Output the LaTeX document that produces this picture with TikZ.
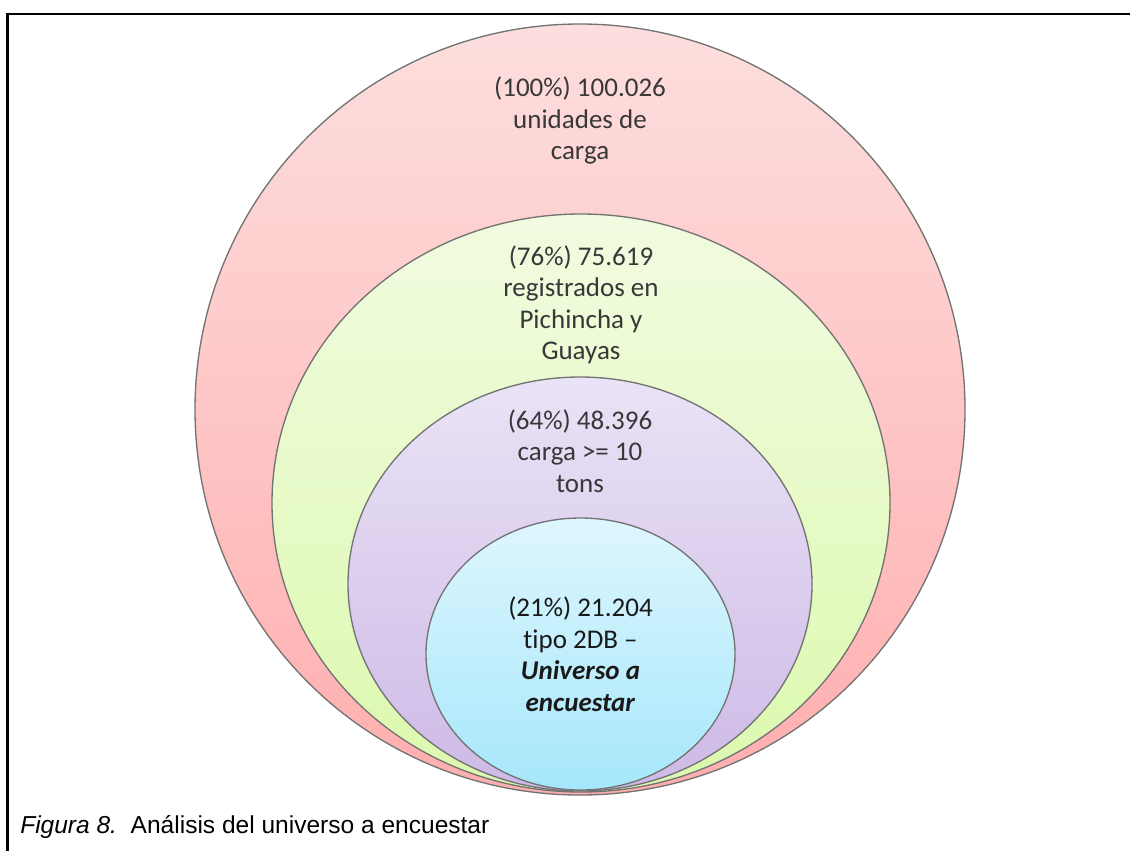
\documentclass[tikz,border=0pt]{standalone}
\usepackage{fontspec}
\setmainfont{Liberation Sans}
\newfontfamily\calib[Ligatures=NoCommon]{Carlito}
\usetikzlibrary{positioning,shapes.geometric}
\definecolor{redtop}{HTML}{FDDEDE}
\definecolor{redbot}{HTML}{FFAEAE}
\definecolor{greentop}{HTML}{F1FBE0}
\definecolor{greenbot}{HTML}{DCF9AE}
\definecolor{purtop}{HTML}{EAE3F6}
\definecolor{purbot}{HTML}{CDB9E6}
\definecolor{bluetop}{HTML}{DEF6FE}
\definecolor{bluebot}{HTML}{A6E7FB}

\begin{document}
\begin{tikzpicture}[
  x=0.75pt,y=-0.75pt,
  ring/.style={ellipse,draw=black!55,line width=1pt,inner sep=0pt},
  lbl/.style={align=center,text=black!78,inner sep=0pt,
              font=\calib\fontsize{20.25pt}{23.6pt}\selectfont}
]
\useasboundingbox (0,0) rectangle (1130,851);
\draw[line width=1.7pt] (7.5,851) -- (7.5,13.7) -- (1130,13.7);

\node[ring,minimum width=577.5pt,minimum height=578.25pt,
      top color=redtop,bottom color=redbot] (total) at (580,409.5) {};
\node[ring,minimum width=463.5pt,minimum height=433.5pt,
      top color=greentop,bottom color=greenbot] (regist) at (581,503) {};
\node[ring,minimum width=348pt,minimum height=310.5pt,
      top color=purtop,bottom color=purbot] (carga) at (580,584) {};
\node[ring,minimum width=231.75pt,minimum height=204pt,
      top color=bluetop,bottom color=bluebot] (univ) at (580.5,654) {};

\node[lbl,below=73.1pt of total.north,anchor=center] (totaltxt)
  {(100\%) 100.026\\unidades de\\carga};
\node[lbl,below=68.5pt of regist.north,anchor=center] (registtxt)
  {(76\%) 75.619\\registrados en\\Pichincha y\\Guayas};
\node[lbl,below=55.9pt of carga.north,anchor=center] (cargatxt)
  {(64\%) 48.396\\carga >= 10\\tons};
\node[lbl,text=black!90,below=102.75pt of univ.north,anchor=center] (univtxt)
  {(21\%) 21.204\\tipo 2DB –\\\textbf{\textit{Universo a}}\\\textbf{\textit{encuestar}}};

\node[anchor=base west,inner sep=0pt,font=\fontsize{18.4pt}{22pt}\selectfont]
  (caption) at (20,833) {\textit{Figura 8.}\ \ Análisis del universo a encuestar};
\end{tikzpicture}
\end{document}
